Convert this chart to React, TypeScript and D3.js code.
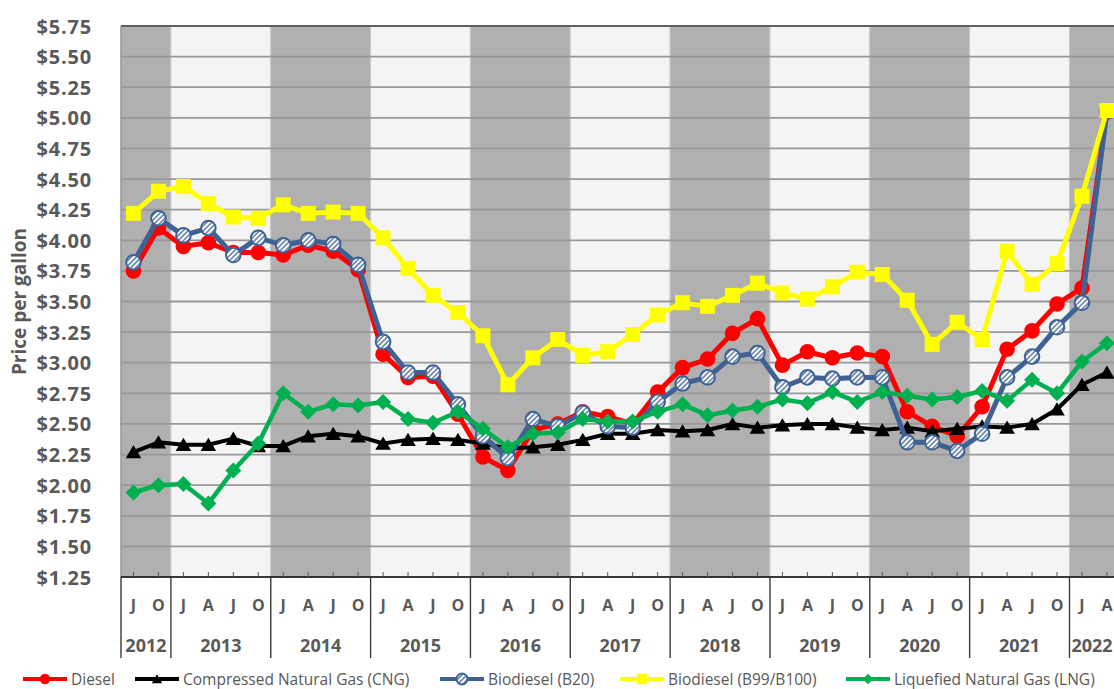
import React from "react";
import * as d3 from "d3";

const quarterLabels = [
  "J", "O",
  "J", "A", "J", "O",
  "J", "A", "J", "O",
  "J", "A", "J", "O",
  "J", "A", "J", "O",
  "J", "A", "J", "O",
  "J", "A", "J", "O",
  "J", "A", "J", "O",
  "J", "A", "J", "O",
  "J", "A", "J", "O",
  "J", "A",
];
const years = ["2012", "2013", "2014", "2015", "2016", "2017", "2018", "2019", "2020", "2021", "2022"];
const quartersPerYear = [2, 4, 4, 4, 4, 4, 4, 4, 4, 4, 2];
const yTicks = [1.25, 1.5, 1.75, 2.0, 2.25, 2.5, 2.75, 3.0, 3.25, 3.5, 3.75, 4.0, 4.25, 4.5, 4.75, 5.0, 5.25, 5.5, 5.75];

const diesel = [3.75, 4.10, 3.95, 3.98, 3.90, 3.90, 3.88, 3.96, 3.91, 3.76, 3.07, 2.88, 2.89, 2.58, 2.23, 2.12, 2.45, 2.50, 2.60, 2.56, 2.50, 2.76, 2.96, 3.03, 3.24, 3.36, 2.98, 3.09, 3.04, 3.08, 3.05, 2.60, 2.48, 2.40, 2.64, 3.11, 3.26, 3.48, 3.61, 5.05];
const cng = [2.27, 2.35, 2.33, 2.33, 2.38, 2.32, 2.32, 2.40, 2.42, 2.40, 2.34, 2.37, 2.38, 2.37, 2.34, 2.30, 2.31, 2.33, 2.37, 2.42, 2.42, 2.45, 2.44, 2.45, 2.50, 2.47, 2.49, 2.50, 2.50, 2.47, 2.45, 2.47, 2.44, 2.46, 2.48, 2.47, 2.50, 2.62, 2.82, 2.92];
const b20 = [3.82, 4.18, 4.04, 4.10, 3.88, 4.02, 3.96, 4.00, 3.97, 3.80, 3.17, 2.92, 2.92, 2.66, 2.40, 2.22, 2.54, 2.48, 2.59, 2.48, 2.47, 2.68, 2.83, 2.88, 3.05, 3.08, 2.80, 2.88, 2.87, 2.88, 2.88, 2.35, 2.35, 2.28, 2.42, 2.88, 3.05, 3.29, 3.49, 5.05];
const b99 = [4.22, 4.40, 4.44, 4.30, 4.19, 4.18, 4.29, 4.22, 4.23, 4.22, 4.02, 3.77, 3.55, 3.41, 3.22, 2.82, 3.04, 3.19, 3.06, 3.09, 3.23, 3.39, 3.49, 3.46, 3.55, 3.65, 3.57, 3.52, 3.62, 3.74, 3.72, 3.51, 3.15, 3.33, 3.19, 3.91, 3.64, 3.81, 4.36, 5.06];
const lng = [1.94, 2.00, 2.01, 1.85, 2.12, 2.34, 2.75, 2.60, 2.66, 2.65, 2.68, 2.54, 2.51, 2.60, 2.46, 2.31, 2.42, 2.43, 2.54, 2.52, 2.52, 2.60, 2.66, 2.57, 2.61, 2.64, 2.70, 2.67, 2.76, 2.68, 2.76, 2.73, 2.70, 2.72, 2.77, 2.69, 2.86, 2.75, 3.01, 3.16];

const seriesNames = ["Diesel", "Compressed Natural Gas (CNG)", "Biodiesel (B20)", "Biodiesel (B99/B100)", "Liquefied Natural Gas (LNG)"];

const W = 1114;
const H = 689;
const left = 121;
const top = 26;
const bottom = 577;
const step = 24.96;
const FONT = "'Open Sans', 'Noto Sans', sans-serif";
const TXT = "#595959";
const BLUE = "#3E6294";

type Kind = "circle" | "triangle" | "hatch" | "square" | "diamond";

function Marker({ kind, x, y, s, color }: { kind: Kind; x: number; y: number; s: number; color: string }) {
  if (kind === "circle") return <circle cx={x} cy={y} r={s} fill={color} />;
  if (kind === "hatch")
    return <circle cx={x} cy={y} r={s - 0.5} fill="url(#hatch)" stroke={BLUE} strokeWidth={2} />;
  if (kind === "square")
    return <rect x={x - s} y={y - s} width={2 * s} height={2 * s} fill={color} />;
  if (kind === "diamond")
    return <path d={`M${x},${y - s}L${x + s},${y}L${x},${y + s}L${x - s},${y}Z`} fill={color} />;
  return (
    <path
      d={`M${x},${y - s * 0.9}L${x + s},${y + s * 0.8}L${x - s},${y + s * 0.8}Z`}
      fill={color}
    />
  );
}

export default function App() {
  const idx = d3.range(quarterLabels.length);
  const x = d3
    .scaleBand<number>()
    .domain(idx)
    .range([left, left + step * idx.length])
    .padding(0);
  const bw = x.bandwidth();
  const cx = (i: number) => (x(i) as number) + bw / 2;
  const y = d3.scaleLinear().domain([1.25, 5.75]).range([bottom, top]);

  const yearStarts: number[] = [];
  let acc = 0;
  quartersPerYear.forEach((n) => {
    yearStarts.push(acc);
    acc += n;
  });

  const line = d3
    .line<number>()
    .x((_, i) => cx(i))
    .y((d) => y(d));

  const series: { data: number[]; color: string; kind: Kind; width: number; s: number }[] = [
    { data: diesel, color: "#FF0000", kind: "circle", width: 5, s: 7.8 },
    { data: cng, color: "#000000", kind: "triangle", width: 4, s: 7.8 },
    { data: b20, color: BLUE, kind: "hatch", width: 5, s: 7.8 },
    { data: b99, color: "#FFFF00", kind: "square", width: 5, s: 7.5 },
    { data: lng, color: "#00B050", kind: "diamond", width: 4.5, s: 8 },
  ];

  const legendX = [23, 135, 440, 620, 846];
  const legendY = 679;

  return (
    <svg
      width={W}
      height={H}
      style={{ position: "absolute", left: 0, top: 0, background: "#fff" }}
    >
      <defs>
        <pattern id="hatch" patternUnits="userSpaceOnUse" width={3.6} height={3.6} patternTransform="rotate(45)">
          <rect width={3.6} height={3.6} fill="#fff" />
          <line x1={1} y1={0} x2={1} y2={3.6} stroke={BLUE} strokeWidth={1.3} />
        </pattern>
        <clipPath id="plotclip">
          <rect x={left} y={top - 10} width={W - left} height={bottom - top + 20} />
        </clipPath>
      </defs>

      {/* year bands */}
      {years.map((yr, k) => {
        const x0 = x(yearStarts[k]) as number;
        const x1 = (x(yearStarts[k] + quartersPerYear[k] - 1) as number) + bw;
        return (
          <rect
            key={yr}
            x={x0}
            y={top}
            width={x1 - x0}
            height={bottom - top}
            fill={k % 2 === 0 ? "#B0B0B0" : "#F4F4F4"}
            stroke="#C8C8C8"
            strokeWidth={1}
          />
        );
      })}

      {/* gridlines */}
      {yTicks.slice(1, -1).map((t) => (
        <line key={t} x1={left} x2={W} y1={y(t)} y2={y(t)} stroke="#989898" strokeWidth={1.8} />
      ))}
      <line x1={left} x2={W} y1={top} y2={top} stroke="#606060" strokeWidth={1.8} />
      <line x1={left} x2={left} y1={top} y2={bottom} stroke="#8A8A8A" strokeWidth={1.2} />

      {/* y tick labels */}
      {yTicks.map((t) => (
        <text
          key={t}
          x={92}
          y={y(t)}
          textAnchor="end"
          dominantBaseline="central"
          fontFamily={FONT}
          fontWeight="bold"
          fontSize={20}
          letterSpacing={0.8}
          fill={TXT}
        >
          {d3.format("$.2f")(t)}
        </text>
      ))}

      <text
        transform={`translate(19,${(top + bottom) / 2}) rotate(-90)`}
        textAnchor="middle"
        dominantBaseline="central"
        fontFamily={FONT}
        fontWeight="bold"
        fontSize={19}
        fill={TXT}
      >
        Price per gallon
      </text>

      {/* series */}
      <g clipPath="url(#plotclip)">
        {series.map((s, k) => (
          <g key={k}>
            <path d={line(s.data) || ""} fill="none" stroke={s.color} strokeWidth={s.width} strokeLinejoin="round" />
            {s.data.map((v, i) => (
              <Marker key={i} kind={s.kind} x={cx(i)} y={y(v)} s={s.s} color={s.color} />
            ))}
          </g>
        ))}
      </g>

      {/* x axis */}
      <line x1={left} x2={W} y1={bottom} y2={bottom} stroke="#000" strokeWidth={1.5} />
      {idx.map((i) => (
        <line key={i} x1={cx(i)} x2={cx(i)} y1={bottom} y2={bottom - 5} stroke="#595959" strokeWidth={1} />
      ))}
      {yearStarts.map((st, k) => (
        <line
          key={k}
          x1={x(st) as number}
          x2={x(st) as number}
          y1={bottom}
          y2={658}
          stroke="#3A3A3A"
          strokeWidth={1.4}
        />
      ))}
      {quarterLabels.map((q, i) => (
        <text
          key={i}
          x={cx(i)}
          y={605}
          textAnchor="middle"
          dominantBaseline="central"
          fontFamily={FONT}
          fontWeight="bold"
          fontSize={16}
          fill={TXT}
        >
          {q}
        </text>
      ))}
      {years.map((yr, k) => {
        const x0 = x(yearStarts[k]) as number;
        const x1 = (x(yearStarts[k] + quartersPerYear[k] - 1) as number) + bw;
        const mid = Math.min((x0 + x1) / 2, k === years.length - 1 ? 1092 : 1e9);
        return (
          <text
            key={yr}
            x={mid}
            y={645}
            textAnchor="middle"
            dominantBaseline="central"
            fontFamily={FONT}
            fontWeight="bold"
            fontSize={18}
            fill={TXT}
          >
            {yr}
          </text>
        );
      })}

      {/* legend */}
      {series.map((s, k) => {
        const lx = legendX[k];
        return (
          <g key={k}>
            <line x1={lx} x2={lx + 44} y1={legendY} y2={legendY} stroke={s.color} strokeWidth={4} />
            <Marker kind={s.kind} x={lx + 22} y={legendY} s={s.kind === "hatch" ? 6 : 5.2} color={s.color} />
            <text
              x={lx + 48}
              y={legendY}
              dominantBaseline="central"
              fontFamily={FONT}
              fontSize={15.5}
              fill={TXT}
            >
              {seriesNames[k]}
            </text>
          </g>
        );
      })}
    </svg>
  );
}
